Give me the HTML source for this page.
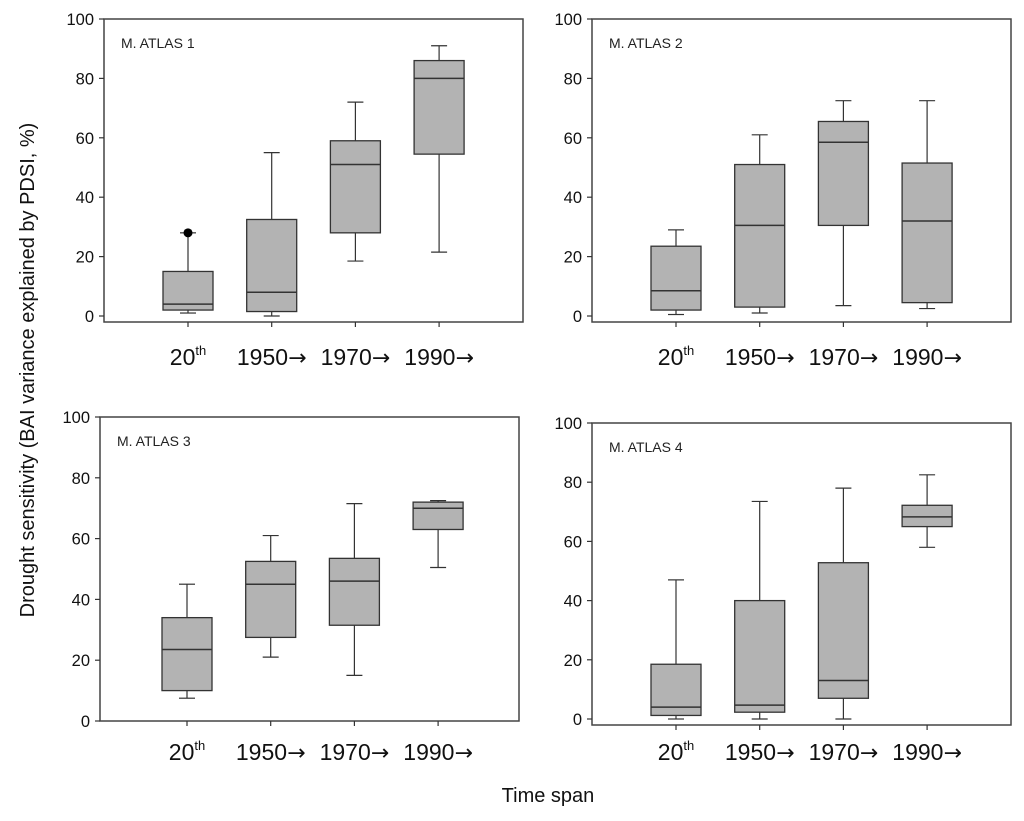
<!DOCTYPE html>
<html><head><meta charset="utf-8"><style>
html,body{margin:0;padding:0;background:#fff;}
svg{display:block;font-family:"Liberation Sans",Arial,sans-serif;}
</style></head><body>
<svg id="chart" width="1024" height="821" viewBox="0 0 1024 821" xmlns="http://www.w3.org/2000/svg">
<text x="0" y="0" transform="translate(34,370) rotate(-90)" text-anchor="middle" font-size="20" fill="#111">Drought sensitivity (BAI variance explained by PDSI, %)</text>
<text x="548" y="802" text-anchor="middle" font-size="20" fill="#111">Time span</text>
</svg>
<script>
const categories = ["20th","1950→","1970→","1990→"];
const yTicks = [0,20,40,60,80,100];
const panelTitles = ["M. ATLAS 1","M. ATLAS 2","M. ATLAS 3","M. ATLAS 4"];
// each: [min, q1, median, q3, max] per category
const atlas1 = [[1,2,4,15,28],[0,1.5,8,32.5,55],[18.5,28,51,59,72],[21.5,54.5,80,86,91]];
const atlas2 = [[0.5,2,8.5,23.5,29],[1,3,30.5,51,61],[3.5,30.5,58.5,65.5,72.5],[2.5,4.5,32,51.5,72.5]];
const atlas3 = [[7.5,10,23.5,34,45],[21,27.5,45,52.5,61],[15,31.5,46,53.5,71.5],[50.5,63,70,72,72.5]];
const atlas4 = [[0,1.2,4,18.5,47],[0,2.3,4.7,40,73.5],[0,7,13,52.8,78],[58,65,68.3,72.2,82.5]];
const outliers1 = [[0,28]];
const panelData = [atlas1,atlas2,atlas3,atlas4];
const panelOutliers = [outliers1,[],[],[]];

const NS="http://www.w3.org/2000/svg";
const svg=document.getElementById('chart');
function mk(tag,attrs,parent){const e=document.createElementNS(NS,tag);for(const k in attrs)e.setAttribute(k,attrs[k]);(parent||svg).appendChild(e);return e;}
const layout=[
 {l:104,t:19,y0:316,b:322,c0:188,ly:365},
 {l:592,t:19,y0:316,b:322,c0:676,ly:365},
 {l:100,t:417,y0:721,b:721,c0:187,ly:760},
 {l:592,t:423,y0:719,b:725,c0:676,ly:760}];
layout.forEach((p,pi)=>{
  const g=mk('g',{});
  
  
  const W=419,y0=p.y0,y100=p.t,bottom=p.b;
  const yS=v=>y0-(v/100)*(y0-y100);
  const xS=i=>p.c0+i*83.7;
  const frame=mk('rect',{x:p.l,y:p.t,width:W,height:bottom-p.t,fill:'none',stroke:'#444','stroke-width':1.5},g);
  
  
  yTicks.forEach(t=>{
    const y=yS(t);
    mk('line',{x1:p.l-5,x2:p.l,y1:y,y2:y,stroke:'#333','stroke-width':1.2},g);
    const tx=mk('text',{x:p.l-10,y:y+6,'text-anchor':'end','font-size':16.5,fill:'#111'},g);
    tx.textContent=t;
    
    
  });
  const title=mk('text',{x:p.l+17,y:p.t+29,'font-size':14,fill:'#222'},g);
  title.textContent=panelTitles[pi];
  
  
  categories.forEach((c,i)=>{
    const x=xS(i);
    mk('line',{x1:x,x2:x,y1:bottom,y2:bottom+5,stroke:'#333','stroke-width':1.2},g);
    const tx=mk('text',{x:x,y:p.ly,'text-anchor':'middle','font-size':23,fill:'#111'},g);
    if(c==="20th"){tx.innerHTML='20<tspan font-size="13" dy="-10">th</tspan>';}
    else tx.innerHTML=c.replace('→','')+'<tspan font-family="DejaVu Sans" font-size="22">→</tspan>';
    
    
    const d=panelData[pi][i];
    const bg=mk('g',{},g);
    
    
    const hw=25,cw=8;
    mk('line',{x1:x,x2:x,y1:yS(d[0]),y2:yS(d[1]),stroke:'#333','stroke-width':1.2},bg);
    mk('line',{x1:x,x2:x,y1:yS(d[3]),y2:yS(d[4]),stroke:'#333','stroke-width':1.2},bg);
    mk('line',{x1:x-cw,x2:x+cw,y1:yS(d[0]),y2:yS(d[0]),stroke:'#333','stroke-width':1.2},bg);
    mk('line',{x1:x-cw,x2:x+cw,y1:yS(d[4]),y2:yS(d[4]),stroke:'#333','stroke-width':1.2},bg);
    mk('rect',{x:x-hw,y:yS(d[3]),width:2*hw,height:yS(d[1])-yS(d[3]),fill:'#b3b3b3',stroke:'#333','stroke-width':1.3},bg);
    mk('line',{x1:x-hw,x2:x+hw,y1:yS(d[2]),y2:yS(d[2]),stroke:'#333','stroke-width':1.5},bg);
  });
  panelOutliers[pi].forEach(o=>{
    const c=mk('circle',{cx:xS(o[0]),cy:yS(o[1]),r:4.5,fill:'#000'},g);
    
    
  });
});
</script>
</body></html>
